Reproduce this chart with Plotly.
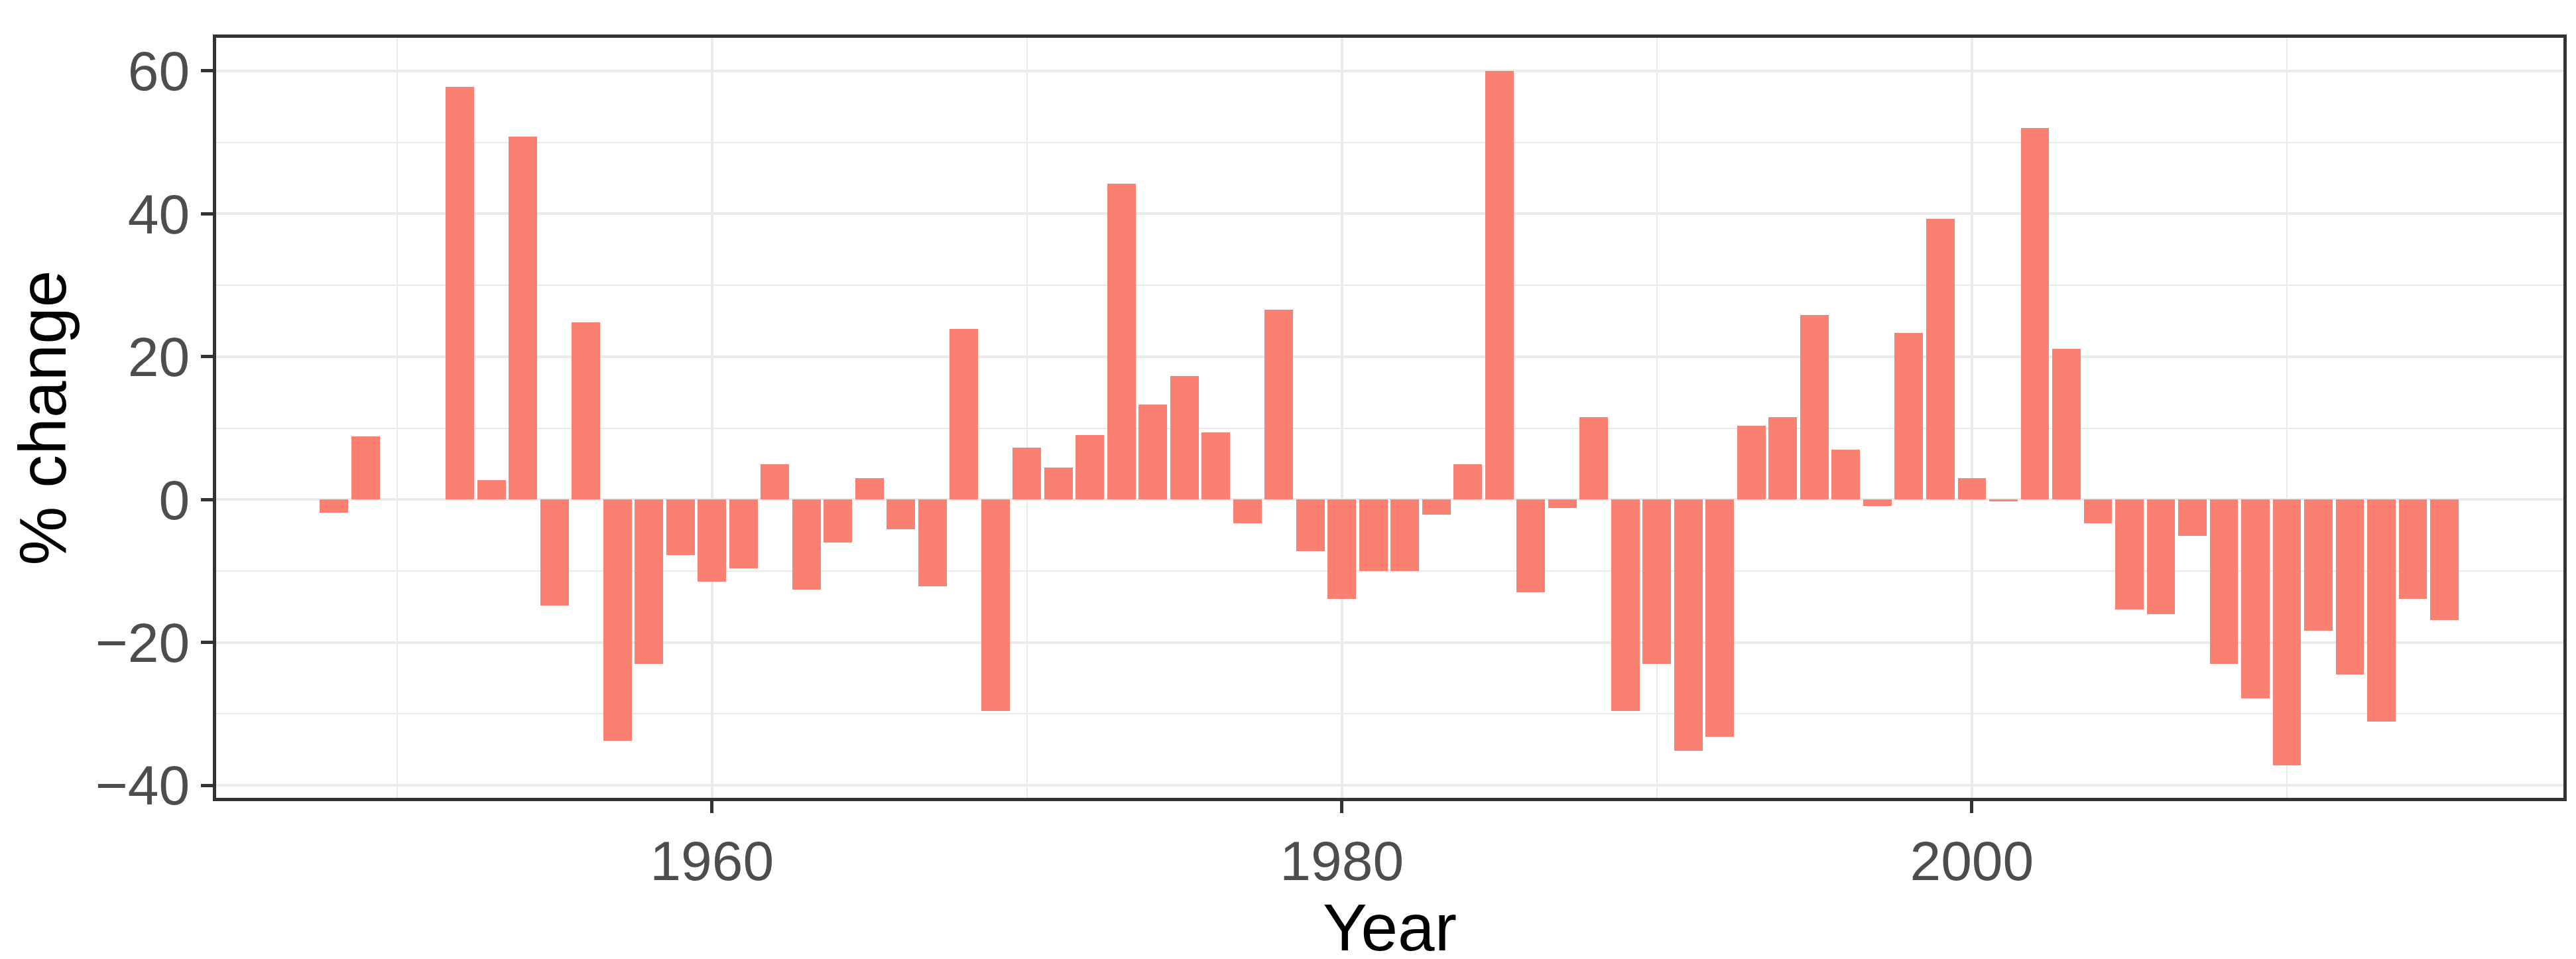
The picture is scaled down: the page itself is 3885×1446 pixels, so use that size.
import plotly.graph_objects as go

years = list(range(1948, 2016))
values = [-1.8, 8.8, None, None, 57.8, 2.7, 50.8, -14.8, 24.8, -33.8,
          -23.0, -7.8, -11.5, -9.6, 4.9, -12.6, -6.0, 3.0, -4.2, -12.1,
          23.9, -29.6, 7.3, 4.5, 9.0, 44.2, 13.3, 17.3, 9.4, -3.3,
          26.6, -7.2, -13.9, -10.0, -10.0, -2.1, 4.9, 60.0, -13.0, -1.2,
          11.5, -29.6, -23.0, -35.2, -33.2, 10.3, 11.5, 25.8, 7.0, -0.9,
          23.3, 39.3, 3.0, -0.3, 52.0, 21.1, -3.3, -15.4, -16.0, -5.1,
          -23.0, -27.8, -37.2, -18.4, -24.5, -31.1, -13.9, -16.9]
x_ticks = [1960, 1980, 2000]
y_ticks = [-40, -20, 0, 20, 40, 60]

fig = go.Figure(go.Bar(x=years, y=values, width=0.9, marker_color="#FA8072",
                       marker_line_width=0))
fig.update_layout(
    width=3885, height=1446, plot_bgcolor="white", paper_bgcolor="white",
    margin=dict(l=318, r=27, t=49, b=251), showlegend=False, bargap=0,
    font=dict(family="Liberation Sans, Arial", size=84, color="#4d4d4d"),
)
fig.update_xaxes(range=[1944.26, 2018.78], tickvals=x_ticks, ticks="outside",
                 ticklen=18, tickwidth=5, tickcolor="#333333",
                 showgrid=True, gridcolor="#ebebeb", gridwidth=4,
                 minor=dict(tickvals=[1950, 1970, 1990, 2010], showgrid=True,
                            gridcolor="#ebebeb", gridwidth=2),
                 showline=True, linecolor="#333333", linewidth=5, mirror=True,
                 zeroline=False,
                 title=dict(text="Year", font=dict(size=100, color="black"), standoff=5))
fig.update_yaxes(range=[-41.76, 64.64], tickvals=y_ticks, ticks="outside",
                 ticklen=18, tickwidth=5, tickcolor="#333333",
                 showgrid=True, gridcolor="#ebebeb", gridwidth=4,
                 minor=dict(tickvals=[-30, -10, 10, 30, 50], showgrid=True,
                            gridcolor="#ebebeb", gridwidth=2),
                 showline=True, linecolor="#333333", linewidth=5, mirror=True,
                 zeroline=False, tickformat="d",
                 title=dict(text="% change", font=dict(size=100, color="black"), standoff=15))
fig.write_html("out.html")
